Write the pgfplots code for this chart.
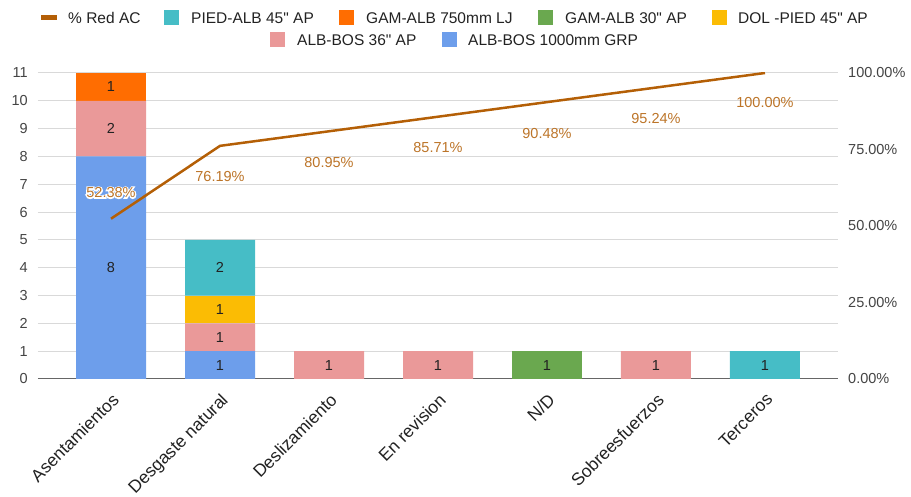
\documentclass[border=0pt]{standalone}
\usepackage{pgfplots}
\pgfplotsset{compat=1.18}
\usepackage{fontspec}
\setmainfont{Liberation Sans}[Ligatures=TeXOff]
\definecolor{cblue}{HTML}{6D9EEB}
\definecolor{cpink}{HTML}{EA9999}
\definecolor{cyellow}{HTML}{FBBC04}
\definecolor{cgreen}{HTML}{6AA84F}
\definecolor{corange}{HTML}{FF6D01}
\definecolor{cteal}{HTML}{46BDC6}
\definecolor{cline}{HTML}{B45F06}
\definecolor{clabel}{HTML}{BC7428}
\definecolor{cgrid}{HTML}{D9D9D9}
\definecolor{caxis}{HTML}{666666}
\definecolor{ctick}{HTML}{444444}
\definecolor{ctext}{HTML}{222222}
\tikzset{vlab/.style={text=ctext, font=\fontsize{14.5}{16}\selectfont},
  ll/.style={text=clabel, font=\fontsize{14.5}{16}\selectfont},
  lg/.style={anchor=west, inner sep=0pt, text=ctext, font=\fontsize{15.5}{17}\selectfont}}
\begin{document}
\begin{tikzpicture}
\useasboundingbox (-38pt,-118pt) rectangle (873pt,379pt);
\begin{axis}[
  at={(0pt,0pt)}, anchor=south west,
  scale only axis, width=800pt, height=306pt,
  xmin=-0.67, xmax=6.67, ymin=0, ymax=11,
  ybar stacked, bar width=70pt,
  xtick={0,...,6},
  xticklabels={Asentamientos,Desgaste natural,Deslizamiento,En revision,N/D,Sobreesfuerzos,Terceros},
  ytick={0,...,11},
  ymajorgrids, grid style={draw=cgrid, line width=1pt},
  major tick length=0pt,
  axis x line*=bottom, axis y line*=left,
  y axis line style={draw=none},
  x axis line style={draw=caxis, line width=1pt},
  tick label style={font=\fontsize{14.5}{16}\selectfont, text=ctick},
  yticklabel style={anchor=east, inner sep=0pt, xshift=-10pt},
  xticklabel style={font=\fontsize{17.5}{19}\selectfont, text=ctext, inner sep=0pt, xshift=0pt, yshift=-13pt, rotate=45, anchor=north east},
  /pgf/number format/assume math mode=true,
]
\addplot[fill=cblue, draw=none] coordinates {(0,8) (1,1) (2,0) (3,0) (4,0) (5,0) (6,0)};
\addplot[fill=cpink, draw=none] coordinates {(0,2) (1,1) (2,1) (3,1) (4,0) (5,1) (6,0)};
\addplot[fill=cyellow, draw=none] coordinates {(0,0) (1,1) (2,0) (3,0) (4,0) (5,0) (6,0)};
\addplot[fill=cgreen, draw=none] coordinates {(0,0) (1,0) (2,0) (3,0) (4,1) (5,0) (6,0)};
\addplot[fill=corange, draw=none] coordinates {(0,1) (1,0) (2,0) (3,0) (4,0) (5,0) (6,0)};
\addplot[fill=cteal, draw=none] coordinates {(0,0) (1,2) (2,0) (3,0) (4,0) (5,0) (6,1)};
\end{axis}
\begin{axis}[
  at={(0pt,0pt)}, anchor=south west,
  scale only axis, width=800pt, height=306pt,
  xmin=-0.67, xmax=6.67, ymin=0, ymax=100,
  axis x line=none, xtick=\empty,
  axis y line*=right, y axis line style={draw=none},
  ytick={0,25,50,75,100},
  yticklabels={0.00\%,25.00\%,50.00\%,75.00\%,100.00\%},
  major tick length=0pt,
  tick label style={font=\fontsize{14.5}{16}\selectfont, text=ctick},
  yticklabel style={anchor=west, inner sep=0pt, xshift=10pt},
]
% segment values (left-axis value v placed at v*100/11)
\node[vlab] at (axis cs:0,36.364) {8};
\node[vlab] at (axis cs:0,81.818) {2};
\node[vlab] at (axis cs:0,95.455) {1};
\node[vlab] at (axis cs:1,4.545) {1};
\node[vlab] at (axis cs:1,13.636) {1};
\node[vlab] at (axis cs:1,22.727) {1};
\node[vlab] at (axis cs:1,36.364) {2};
\node[vlab] at (axis cs:2,4.545) {1};
\node[vlab] at (axis cs:3,4.545) {1};
\node[vlab] at (axis cs:4,4.545) {1};
\node[vlab] at (axis cs:5,4.545) {1};
\node[vlab] at (axis cs:6,4.545) {1};
\addplot[color=cline, line width=2.5pt, mark=none] coordinates {(0,52.38) (1,76.19) (2,80.95) (3,85.71) (4,90.48) (5,95.24) (6,100)};
\node[ll,text=white,yshift=26pt] at (axis cs:0,52.38) {\special{pdf:literal direct 1 1 1 RG 2.5 w 1 Tr}52.38\%\special{pdf:literal direct 0 Tr}};
\node[ll,yshift=26pt] at (axis cs:0,52.38) {52.38\%};
\node[ll,yshift=-31pt] at (axis cs:1,76.19) {76.19\%};
\node[ll,yshift=-31pt] at (axis cs:2,80.95) {80.95\%};
\node[ll,yshift=-31pt] at (axis cs:3,85.71) {85.71\%};
\node[ll,yshift=-31pt] at (axis cs:4,90.48) {90.48\%};
\node[ll,yshift=-31pt] at (axis cs:5,95.24) {95.24\%};
\node[ll,yshift=-30pt] at (axis cs:6,100) {100.00\%};
\end{axis}
\fill[cline] (3pt,358.5pt) rectangle (19pt,363.5pt);
\node[lg] at (30pt,361pt) {\% Red AC};
\fill[cteal] (126pt,353.5pt) rectangle (141pt,368.5pt);
\node[lg] at (153pt,361pt) {PIED-ALB 45" AP};
\fill[corange] (301pt,353.5pt) rectangle (316pt,368.5pt);
\node[lg] at (328pt,361pt) {GAM-ALB 750mm LJ};
\fill[cgreen] (500pt,353.5pt) rectangle (515pt,368.5pt);
\node[lg] at (527pt,361pt) {GAM-ALB 30" AP};
\fill[cyellow] (674pt,353.5pt) rectangle (689pt,368.5pt);
\node[lg] at (700pt,361pt) {DOL -PIED 45" AP};
\fill[cpink] (232pt,331.5pt) rectangle (247pt,346.5pt);
\node[lg] at (259pt,339pt) {ALB-BOS 36" AP};
\fill[cblue] (404pt,331.5pt) rectangle (419pt,346.5pt);
\node[lg] at (430pt,339pt) {ALB-BOS 1000mm GRP};
\end{tikzpicture}
\end{document}
